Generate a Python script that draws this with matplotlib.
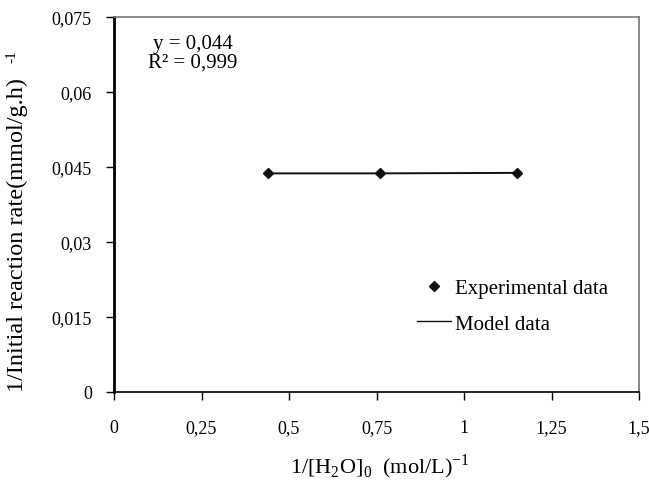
import matplotlib
matplotlib.use("Agg")
from matplotlib import pyplot as plt
from matplotlib.lines import Line2D
from matplotlib.ticker import FixedLocator, FuncFormatter

plt.rcParams["font.family"] = ["Liberation Serif", "DejaVu Serif"]
plt.rcParams["mathtext.fontset"] = "custom"
plt.rcParams["mathtext.rm"] = "Liberation Serif"

# Data.
x_exp = [0.44, 0.76, 1.15]
y_exp = [0.0437, 0.0437, 0.0438]
x_ticks = [0, 0.25, 0.5, 0.75, 1, 1.25, 1.5]
y_ticks = [0, 0.015, 0.03, 0.045, 0.06, 0.075]
fit_text = "y = 0,044\nR² = 0,999"


def comma(v, pos=None):
    # Decimal comma, no trailing zeros.
    s = f"{v:.3f}".rstrip("0").rstrip(".")
    return s.replace(".", ",")


fig = plt.figure(figsize=(6.49, 4.81), dpi=100)
ax = fig.add_axes([114 / 649, 1 - 392.7 / 481, 525 / 649, 374.7 / 481])

# Experimental points and the fitted (constant) model line.
ax.plot(x_exp, y_exp, linestyle="none", marker="D", markersize=5.5, color="#111111", zorder=3)
ax.plot(x_exp, y_exp, linestyle="-", linewidth=1.4, color="#111111", zorder=2)

ax.set_xlim(0, 1.5)
ax.set_ylim(0, 0.075)
ax.xaxis.set_major_locator(FixedLocator(x_ticks))
ax.yaxis.set_major_locator(FixedLocator(y_ticks))
ax.xaxis.set_major_formatter(FuncFormatter(comma))
ax.yaxis.set_major_formatter(FuncFormatter(comma))
ax.tick_params(axis="x", direction="out", length=6, width=1, labelsize=13, pad=14)
ax.tick_params(axis="y", direction="out", length=6, width=1, labelsize=13, pad=10)

ax.spines["left"].set_linewidth(2)
ax.spines["left"].set_color("black")
ax.spines["bottom"].set_linewidth(1.2)
ax.spines["bottom"].set_color("black")
for side in ["top", "right"]:
    ax.spines[side].set_linewidth(1.2)
    ax.spines[side].set_color("#777777")

ax.text(0.15, 0.955, fit_text, transform=ax.transAxes, fontsize=15, ha="center", va="top",
        multialignment="center", linespacing=1.0)

handles = [
    Line2D([], [], linestyle="none", marker="D", markersize=5, color="#111111"),
    Line2D([], [], linestyle="-", linewidth=1, color="#111111"),
]
ax.legend(handles, ["Experimental data", "Model data"], loc="upper left",
          bbox_to_anchor=(0.55, 0.34), frameon=False, fontsize=15, handlelength=1.6,
          handletextpad=0.2, labelspacing=0.75, borderpad=0.2)

fig.text(380 / 649, 1 - 467 / 481, r"1/[H$_2$O]$_0$  (mol/L)$^{-1}$", fontsize=16,
         ha="center", va="center")
fig.text(17 / 649, 1 - 235 / 481, "1/Initial reaction rate(mmol/g.h)", fontsize=17.5,
         rotation=90, ha="center", va="center")
fig.text(12 / 649, 1 - 57 / 481, "-1", fontsize=11, rotation=90, ha="center", va="center")

fig.savefig("out.png", dpi=100)
